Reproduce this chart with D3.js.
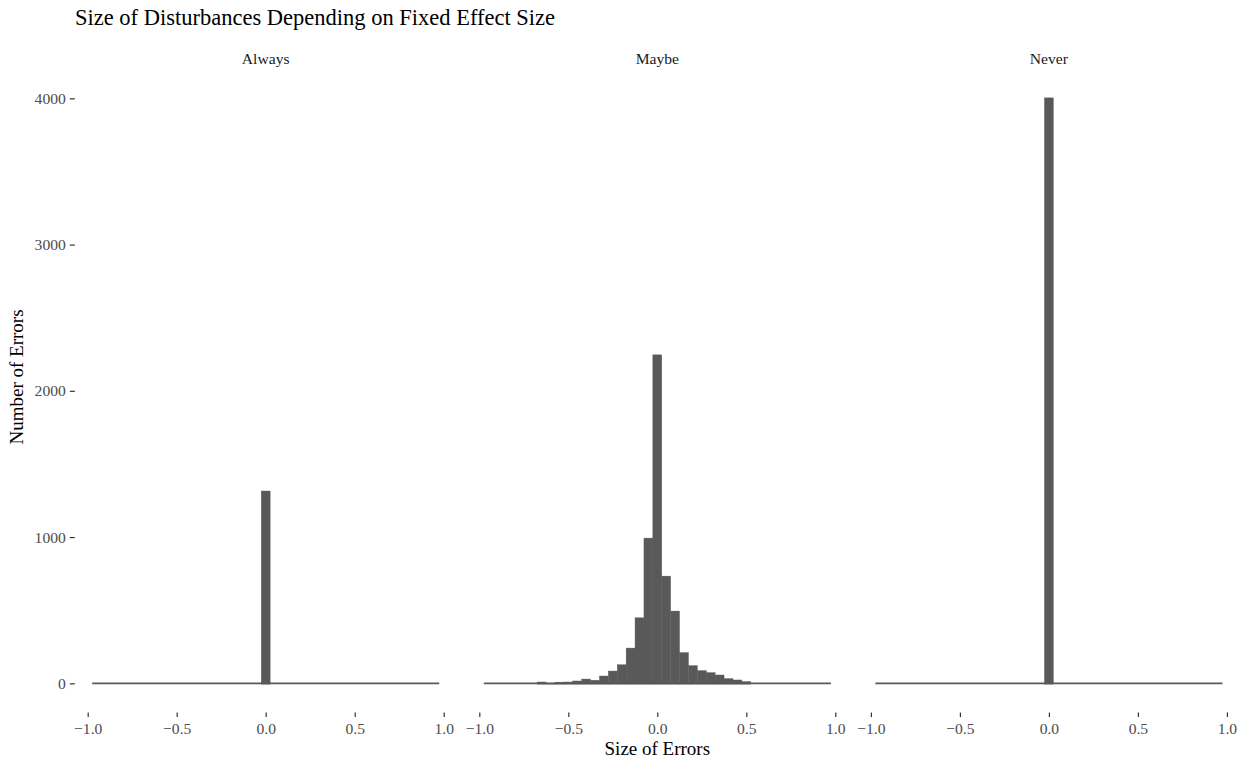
<!DOCTYPE html>
<html>
<head>
<meta charset="utf-8">
<script src="https://cdn.jsdelivr.net/npm/d3@7"></script>
<style>
  body { margin: 0; background: #fff; }
  svg text { font-family: "Liberation Serif", "Times New Roman", serif; }
</style>
</head>
<body>
<div id="graph"></div>
<script>
// panels and bins (binwidth 0.05)
var panels = ["Always", "Maybe", "Never"];
var binCenters = [-0.95, -0.90, -0.85, -0.80, -0.75, -0.70, -0.65, -0.60, -0.55, -0.50,
    -0.45, -0.40, -0.35, -0.30, -0.25, -0.20, -0.15, -0.10, -0.05, 0.00,
    0.05, 0.10, 0.15, 0.20, 0.25, 0.30, 0.35, 0.40, 0.45, 0.50,
    0.55, 0.60, 0.65, 0.70, 0.75, 0.80, 0.85, 0.90, 0.95];
var binWidth = 0.05;

var alwaysCounts = [0, 0, 0, 0, 0, 0, 0, 0, 0, 0,
    0, 0, 0, 0, 0, 0, 0, 0, 0, 1315,
    0, 0, 0, 0, 0, 0, 0, 0, 0, 0,
    0, 0, 0, 0, 0, 0, 0, 0, 0];
var maybeCounts = [0, 0, 0, 0, 0, 0, 9, 1, 8, 9,
    16, 29, 21, 50, 84, 127, 241, 448, 993, 2246,
    733, 494, 210, 121, 87, 73, 57, 32, 23, 12,
    0, 0, 0, 0, 0, 0, 0, 0, 0];
var neverCounts = [0, 0, 0, 0, 0, 0, 0, 0, 0, 0,
    0, 0, 0, 0, 0, 0, 0, 0, 0, 4003,
    0, 0, 0, 0, 0, 0, 0, 0, 0, 0,
    0, 0, 0, 0, 0, 0, 0, 0, 0];
var counts = [alwaysCounts, maybeCounts, neverCounts];

var xTicks = [-1.0, -0.5, 0.0, 0.5, 1.0];
var yTicks = [0, 1000, 2000, 3000, 4000];

var W = 1248, H = 762;
var panelLeft = 74.8, panelWidth = 381.8, panelGap = 9.8;
var panelTop = 68.6, panelBottom = 712.6;

var svg = d3.select("#graph").append("svg")
    .attr("width", W)
    .attr("height", H);

// ggplot style 5% expansion
var xMin = binCenters[0] - binWidth / 2, xMax = binCenters[binCenters.length - 1] + binWidth / 2;
var xPad = (xMax - xMin) * 0.05;
var yMax = d3.max(counts, c => d3.max(c));

var y = d3.scaleLinear()
    .domain([-yMax * 0.05, yMax * 1.05])
    .range([panelBottom, panelTop]);

// title
svg.append("text")
    .attr("x", 75)
    .attr("y", 25)
    .style("font-size", "22.5px")
    .style("fill", "#000")
    .text("Size of Disturbances Depending on Fixed Effect Size");

panels.forEach(function (name, p) {
    var left = panelLeft + p * (panelWidth + panelGap);
    var x = d3.scaleLinear()
        .domain([xMin - xPad, xMax + xPad])
        .range([left, left + panelWidth]);

    var g = svg.append("g");

    // strip label
    g.append("text")
        .attr("x", left + panelWidth / 2)
        .attr("y", 64)
        .attr("text-anchor", "middle")
        .style("font-size", "15.6px")
        .style("fill", "#1a1a1a")
        .text(name);

    // zero line under the bins
    g.append("line")
        .attr("x1", x(xMin))
        .attr("x2", x(xMax))
        .attr("y1", y(0))
        .attr("y2", y(0))
        .attr("stroke", "#595959")
        .attr("stroke-width", 1.6);

    g.selectAll(".bar")
        .data(binCenters.map((c, i) => ({ c: c, n: counts[p][i] })).filter(d => d.n > 0))
        .enter().append("rect")
        .attr("class", "bar")
        .attr("x", d => x(d.c - binWidth / 2))
        .attr("width", d => x(d.c + binWidth / 2) - x(d.c - binWidth / 2))
        .attr("y", d => y(d.n))
        .attr("height", d => y(0) - y(d.n) + 0.8)
        .attr("fill", "#595959")
        .attr("stroke", "#595959")
        .attr("stroke-width", 0.4);

    // x axis
    var xa = g.append("g")
        .attr("transform", "translate(0," + panelBottom + ")")
        .call(d3.axisBottom(x).tickValues(xTicks).tickFormat(d3.format(".1f")).tickSize(4.5).tickPadding(6));
    xa.select(".domain").remove();
    xa.selectAll("line").attr("stroke", "#333").attr("stroke-width", 1.2);
    xa.selectAll("text").style("font-size", "15.6px").style("fill", "#4d4d4d")
        .style("font-family", "'Liberation Serif', 'Times New Roman', serif");

    // y axis only on first panel
    if (p === 0) {
        var ya = g.append("g")
            .attr("transform", "translate(" + left + ",0)")
            .call(d3.axisLeft(y).tickValues(yTicks).tickFormat(d3.format("d")).tickSize(5).tickPadding(4));
        ya.select(".domain").remove();
        ya.selectAll("line").attr("stroke", "#333").attr("stroke-width", 1.2);
        ya.selectAll("text").style("font-size", "15.6px").style("fill", "#4d4d4d")
            .style("font-family", "'Liberation Serif', 'Times New Roman', serif");
    }
});

// axis titles
svg.append("text")
    .attr("x", panelLeft + 1.5 * panelWidth + panelGap)
    .attr("y", 755)
    .attr("text-anchor", "middle")
    .style("font-size", "19px")
    .text("Size of Errors");

svg.append("text")
    .attr("transform", "translate(23,377) rotate(-90)")
    .attr("text-anchor", "middle")
    .style("font-size", "19px")
    .text("Number of Errors");
</script>
</body>
</html>
